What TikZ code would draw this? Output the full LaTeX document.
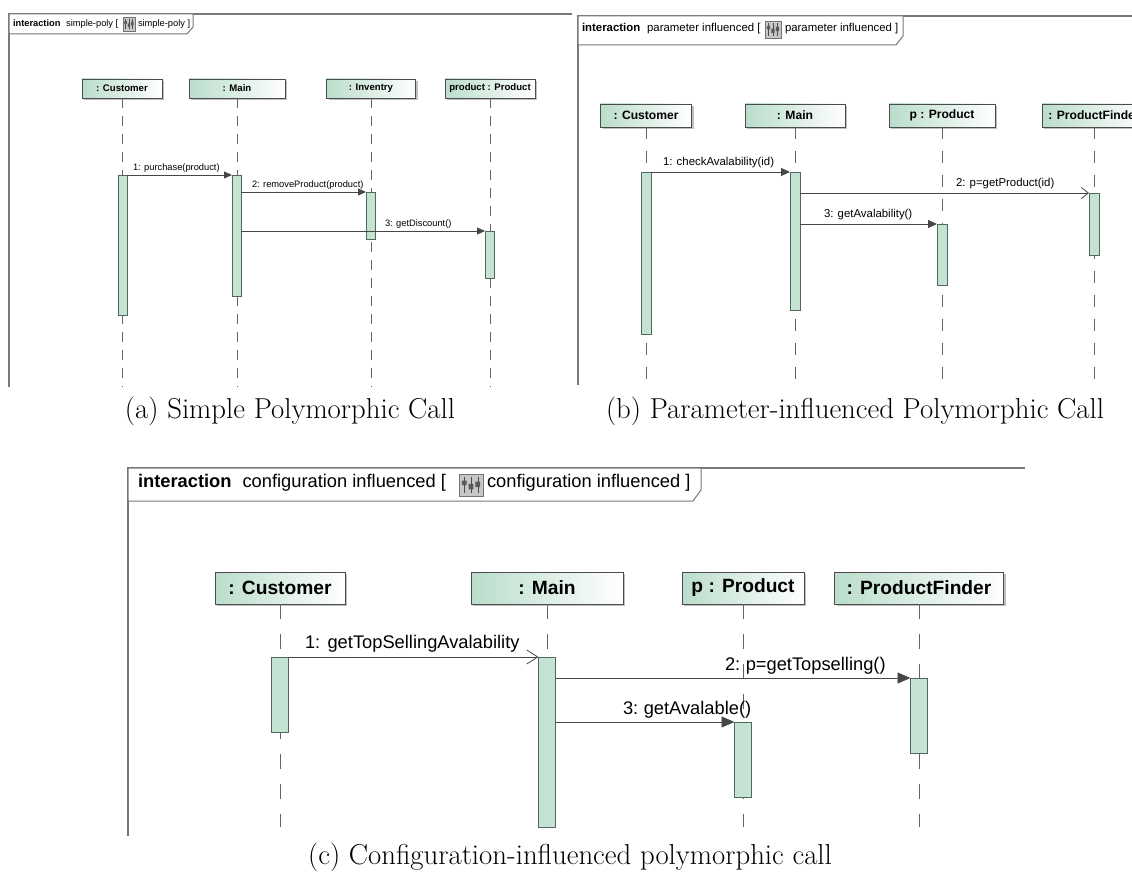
\documentclass[tikz,border=0pt]{standalone}
\usepackage{fontspec}
\newfontfamily\uml{Liberation Sans}
\usetikzlibrary{arrows.meta,shadows}
\definecolor{actfill}{RGB}{196,227,211}
\definecolor{actdraw}{RGB}{80,105,92}
\definecolor{headfill}{RGB}{186,221,203}
\definecolor{framecol}{RGB}{120,120,120}
\definecolor{msgcol}{RGB}{70,70,70}
\definecolor{lifecol}{RGB}{100,100,100}
\tikzset{
  every node/.style={inner sep=0pt, outer sep=0pt},
  frm/.style={draw=framecol, line width=1.1pt},
  hdr/.style={draw=framecol, line width=1pt, fill=white},
  headbox/.style={draw=black!70, line width=0.7pt, left color=headfill, right color=white,
    drop shadow={shadow xshift=2pt, shadow yshift=-2pt, fill=black!25, opacity=1}},
  actbox/.style={draw=actdraw, fill=actfill, line width=0.7pt, anchor=north},
  life/.style={draw=lifecol, line width=0.7pt},
  msg/.style={draw=msgcol, line width=0.8pt},
  lbl/.style={anchor=base west, text=black},
  captext/.style={anchor=base, font=\fontsize{28.8}{33}\selectfont},
  fa/.style={font=\uml\fontsize{9.3}{11}\selectfont},
  fab/.style={font=\uml\bfseries\fontsize{9.6}{11}\selectfont},
  fb/.style={font=\uml\fontsize{11.4}{13}\selectfont},
  fbb/.style={font=\uml\bfseries\fontsize{12.1}{14}\selectfont},
  fc/.style={font=\uml\fontsize{18.3}{21}\selectfont},
  fcb/.style={font=\uml\bfseries\fontsize{19.2}{22}\selectfont},
  filledA/.style={-{Triangle[length=8pt,width=7pt]}},
  filledB/.style={-{Triangle[length=9pt,width=8pt]}},
  filledC/.style={-{Triangle[length=13pt,width=11pt]}},
  openB/.style={-{Straight Barb[length=7pt,width=11pt]}},
  openC/.style={-{Straight Barb[length=11pt,width=14pt]}},
  seqicon/.pic={
    \draw[draw=black!55, fill=black!22, line width=0.5pt] (0,0) rectangle (1,1);
    \draw[black!70, line width=0.4pt] (0.22,0.12) -- (0.22,0.88) (0.5,0.12) -- (0.5,0.88) (0.78,0.12) -- (0.78,0.88);
    \fill[black!65] (0.12,0.3) rectangle (0.32,0.5) (0.4,0.45) rectangle (0.6,0.7) (0.68,0.35) rectangle (0.88,0.6);
  }
}
\begin{document}
\begin{tikzpicture}[x=1pt,y=-1pt]
\useasboundingbox (0,0) rectangle (1132,874);

% ===================== (a) =====================
\draw[frm] (572,14) -- (9,14) -- (9,387);
\draw[hdr] (9,14) -- (193,14) -- (193,27) -- (187,34) -- (9,34) -- cycle;
\node[lbl, fa] (ta1) at (13,27) {\textbf{interaction}\hspace{0.6em}simple-poly [};
\pic[xscale=12, yscale=14] at (123,17) {seqicon};
\node[lbl, fa] (ta2) at (138,27) {simple-poly ]};

\node[headbox, fab, minimum width=80pt, minimum height=19pt] (aC) at (122,88.5) {: Customer};
\node[headbox, fab, minimum width=96pt, minimum height=19pt] (aM) at (237,88.5) {: Main};
\node[headbox, fab, minimum width=89pt, minimum height=19pt] (aI) at (371,88.5) {: Inventry};
\node[headbox, fab, minimum width=90pt, minimum height=19pt] (aP) at (490,88.5) {product : Product};

\coordinate (aCe) at (122,387);
\coordinate (aMe) at (237,387);
\coordinate (aIe) at (371,387);
\coordinate (aPe) at (490,387);
\draw[life, dash pattern=on 10pt off 8pt] (aC.south) -- (aCe);
\draw[life, dash pattern=on 10pt off 8pt] (aM.south) -- (aMe);
\draw[life, dash pattern=on 10pt off 8pt] (aI.south) -- (aIe);
\draw[life, dash pattern=on 10pt off 8pt] (aP.south) -- (aPe);

\node[actbox, minimum width=9pt, minimum height=140pt] (aCa) at (122.5,175) {};
\node[actbox, minimum width=9pt, minimum height=121pt] (aMa) at (236.5,175) {};
\node[actbox, minimum width=9pt, minimum height=47pt] (aIa) at (370.5,192) {};
\node[actbox, minimum width=9pt, minimum height=47pt] (aPa) at (489.5,231) {};

\draw[msg, filledA] (aCa.north east) -- (aMa.north west);
\draw[msg, filledA] (aMa.east |- aIa.north) -- (aIa.north west);
\draw[msg, filledA] (aMa.east |- aPa.north) -- (aPa.north west);
\node[lbl, fa] (aL1) at (133,171) {1: purchase(product)};
\node[lbl, fa] (aL2) at (252,188) {2: removeProduct(product)};
\node[lbl, fa] (aL3) at (385,227) {3: getDiscount()};

\node[captext] (capa) at (290,418) {(a) Simple Polymorphic Call};

% ===================== (b) =====================
\draw[frm] (1140,16) -- (578,16) -- (578,385);
\draw[hdr] (578,16) -- (903,16) -- (903,36) -- (896,45) -- (578,45) -- cycle;
\node[lbl, fb] (tb1) at (582,32) {\textbf{interaction}\hspace{0.6em}parameter influenced [};
\pic[xscale=16, yscale=17] at (765,21) {seqicon};
\node[lbl, fb] (tb2) at (785,32) {parameter influenced ]};

\node[headbox, fbb, minimum width=91pt, minimum height=23pt] (bC) at (646,115.5) {: Customer};
\node[headbox, fbb, minimum width=100pt, minimum height=23pt] (bM) at (795,115.5) {: Main};
\node[headbox, fbb, minimum width=106pt, minimum height=23pt] (bP) at (942,115.5) {p : Product};
\node[headbox, fbb, minimum width=104pt, minimum height=23pt] (bF) at (1094,115.5) {: ProductFinder};

\coordinate (bCe) at (646,385);
\coordinate (bMe) at (795,385);
\coordinate (bPe) at (942,385);
\coordinate (bFe) at (1094,385);
\draw[life, dash pattern=on 12pt off 12pt] (bC.south) -- (bCe);
\draw[life, dash pattern=on 12pt off 12pt] (bM.south) -- (bMe);
\draw[life, dash pattern=on 12pt off 12pt] (bP.south) -- (bPe);
\draw[life, dash pattern=on 12pt off 12pt] (bF.south) -- (bFe);

\node[actbox, minimum width=10pt, minimum height=162pt] (bCa) at (646,172) {};
\node[actbox, minimum width=10pt, minimum height=138pt] (bMa) at (795,172) {};
\node[actbox, minimum width=10pt, minimum height=61pt] (bPa) at (942,224) {};
\node[actbox, minimum width=10pt, minimum height=62pt] (bFa) at (1094,193) {};

\draw[msg, filledB] (bCa.north east) -- (bMa.north west);
\draw[msg, openB] (bMa.east |- bFa.north) -- (bFa.north west);
\draw[msg, filledB] (bMa.east |- bPa.north) -- (bPa.north west);
\node[lbl, fb] (bL1) at (663,166) {1: checkAvalability(id)};
\node[lbl, fb] (bL2) at (956,187) {2: p=getProduct(id)};
\node[lbl, fb] (bL3) at (824,218) {3: getAvalability()};

\node[captext] (capb) at (855,418) {(b) Parameter-influenced Polymorphic Call};

% ===================== (c) =====================
\draw[frm] (1025,468) -- (128,468) -- (128,836);
\draw[hdr] (128,468) -- (701,468) -- (701,490) -- (693,501) -- (128,501) -- cycle;
\node[lbl, fc] (tc1) at (138,487) {\textbf{interaction}\hspace{0.6em}configuration influenced [};
\pic[xscale=24, yscale=22] at (459,474) {seqicon};
\node[lbl, fc] (tc2) at (487,487) {configuration influenced ]};

\node[headbox, fcb, minimum width=130pt, minimum height=32pt] (cC) at (280,588) {: Customer};
\node[headbox, fcb, minimum width=152pt, minimum height=32pt] (cM) at (547,588) {: Main};
\node[headbox, fcb, minimum width=122pt, minimum height=32pt] (cP) at (743,588) {p : Product};
\node[headbox, fcb, minimum width=169pt, minimum height=32pt] (cF) at (919,588) {: ProductFinder};

\coordinate (cCe) at (280,827);
\coordinate (cMe) at (547,827);
\coordinate (cPe) at (743,827);
\coordinate (cFe) at (919,827);
\draw[life, dash pattern=on 15pt off 15pt] (cC.south) -- (cCe);
\draw[life, dash pattern=on 15pt off 15pt] (cM.south) -- (cMe);
\draw[life, dash pattern=on 15pt off 15pt] (cP.south) -- (cPe);
\draw[life, dash pattern=on 15pt off 15pt] (cF.south) -- (cFe);

\node[actbox, minimum width=17pt, minimum height=75pt] (cCa) at (280,657) {};
\node[actbox, minimum width=17pt, minimum height=170pt] (cMa) at (547,657) {};
\node[actbox, minimum width=17pt, minimum height=75pt] (cPa) at (743,722) {};
\node[actbox, minimum width=17pt, minimum height=75pt] (cFa) at (919,678) {};

\draw[msg, openC] (cCa.north east) -- (cMa.north west);
\draw[msg, filledC] (cMa.east |- cFa.north) -- (cFa.north west);
\draw[msg, filledC] (cMa.east |- cPa.north) -- (cPa.north west);
\node[lbl, fc] (cL1) at (305,648) {1:\hspace{0.4em}getTopSellingAvalability};
\node[lbl, fc] (cL2) at (725,670) {2:\hspace{0.3em}p=getTopselling()};
\node[lbl, fc] (cL3) at (623,714) {3:\hspace{0.3em}getAvalable()};

\node[captext] (capc) at (570,864) {(c) Configuration-influenced polymorphic call};
\end{tikzpicture}
\end{document}
